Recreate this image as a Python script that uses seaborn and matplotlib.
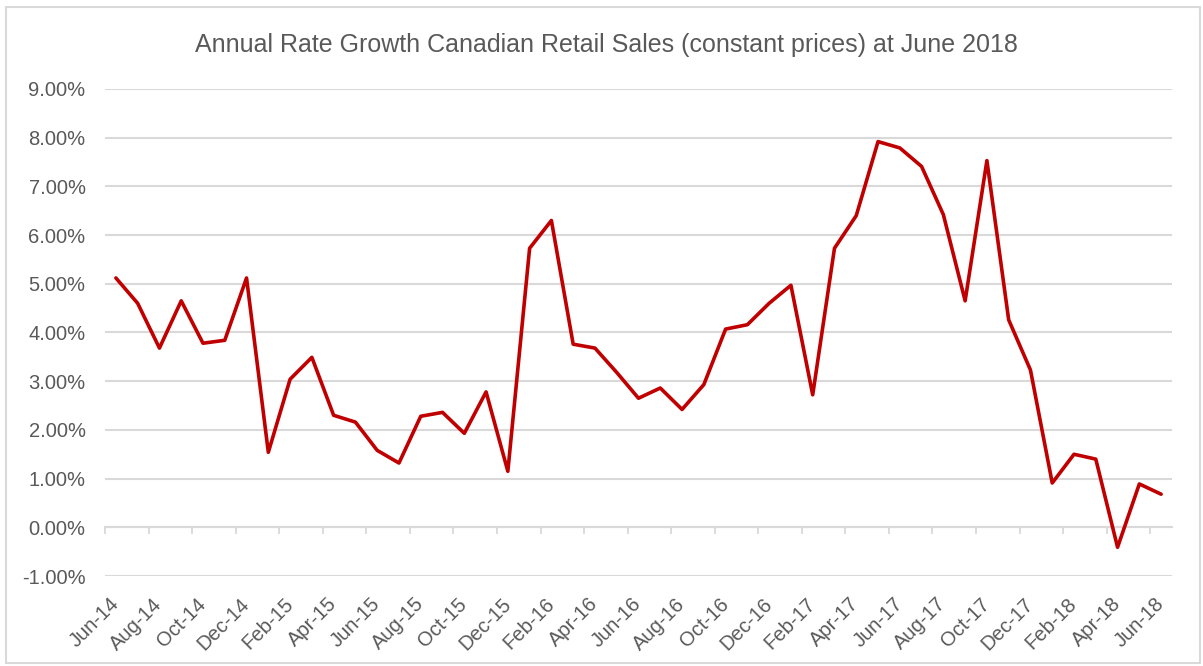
import matplotlib
matplotlib.use("Agg")
import matplotlib.pyplot as plt
import matplotlib.ticker as mticker
from matplotlib.patches import Rectangle
import seaborn as sns
import pandas as pd
import numpy as np

months = [
    "Jun-14", "Jul-14", "Aug-14", "Sep-14", "Oct-14", "Nov-14", "Dec-14",
    "Jan-15", "Feb-15", "Mar-15", "Apr-15", "May-15", "Jun-15", "Jul-15",
    "Aug-15", "Sep-15", "Oct-15", "Nov-15", "Dec-15",
    "Jan-16", "Feb-16", "Mar-16", "Apr-16", "May-16", "Jun-16", "Jul-16",
    "Aug-16", "Sep-16", "Oct-16", "Nov-16", "Dec-16",
    "Jan-17", "Feb-17", "Mar-17", "Apr-17", "May-17", "Jun-17", "Jul-17",
    "Aug-17", "Sep-17", "Oct-17", "Nov-17", "Dec-17",
    "Jan-18", "Feb-18", "Mar-18", "Apr-18", "May-18", "Jun-18",
]
growth = [
    5.12, 4.60, 3.68, 4.65, 3.78, 3.84, 5.12,
    1.54, 3.04, 3.49, 2.30, 2.16, 1.58, 1.32,
    2.28, 2.36, 1.93, 2.78, 1.15,
    5.73, 6.30, 3.76, 3.68, 3.18, 2.65, 2.86,
    2.42, 2.93, 4.07, 4.16, 4.60,
    4.97, 2.72, 5.73, 6.40, 7.92, 7.79, 7.41,
    6.42, 4.65, 7.53, 4.26, 3.23,
    0.91, 1.50, 1.40, -0.41, 0.89, 0.68,
]
y_ticks = [-1, 0, 1, 2, 3, 4, 5, 6, 7, 8, 9]
title = "Annual Rate Growth Canadian Retail Sales (constant prices) at June 2018"

df = pd.DataFrame({"idx": np.arange(len(months)), "month": months, "growth": growth})

sns.set_theme(style="white")
plt.rcParams["font.family"] = ["Liberation Sans", "DejaVu Sans"]

text_color = "#595959"
grid_color = "#d9d9d9"

fig = plt.figure(figsize=(12.03, 6.66), dpi=100)
ax = fig.add_axes([105 / 1203, 1 - 576 / 666, (1172 - 105) / 1203, (576 - 89) / 666])

sns.lineplot(data=df, x="idx", y="growth", ax=ax, color="#c00000", linewidth=2.6, zorder=3)

ax.set_xlim(-0.5, len(months) - 0.5)
ax.set_ylim(min(y_ticks), max(y_ticks))
ax.set_yticks(y_ticks)
ax.yaxis.set_major_formatter(mticker.FuncFormatter(lambda v, p: f"{v:.2f}%"))
ax.grid(axis="y", color=grid_color, linewidth=1.5, zorder=0)
ax.grid(axis="x", visible=False)
for s in ax.spines.values():
    s.set_visible(False)

ax.set_xticks(df["idx"][::2])
ax.set_xticklabels(df["month"][::2], rotation=45, ha="right", va="center", rotation_mode="anchor")
ax.tick_params(axis="x", length=0, pad=18, labelsize=14.5, labelcolor=text_color)
ax.tick_params(axis="y", length=0, pad=14, labelsize=14.5, labelcolor=text_color)
ax.set_xlabel("")
ax.set_ylabel("")

# category axis at 0% with tick marks between categories every 2 months
zero_frac = (0 - min(y_ticks)) / (max(y_ticks) - min(y_ticks))
sec = ax.secondary_xaxis(zero_frac)
sec.set_xticks(np.arange(-0.5, len(months), 2))
sec.tick_params(axis="x", direction="out", length=5, width=1.3, color=grid_color, labelbottom=False, labeltop=False, top=False, bottom=True)
sec.xaxis.set_ticks_position("bottom")
sec.set_xticklabels([])
for name, s in sec.spines.items():
    s.set_visible(name == "bottom")
sec.spines["bottom"].set_color(grid_color)
sec.spines["bottom"].set_linewidth(1.5)

fig.text(0.5 + 5 / 1203, 1 - 45 / 666, title, ha="center", va="center", fontsize=18, color=text_color)

fig.patches.append(Rectangle((6 / 1203, 3 / 666), 1 - 9 / 1203, 1 - 10 / 666, transform=fig.transFigure,
                             fill=False, edgecolor="#d9d9d9", linewidth=1.5))

fig.savefig("out.png", dpi=100, facecolor="white")
